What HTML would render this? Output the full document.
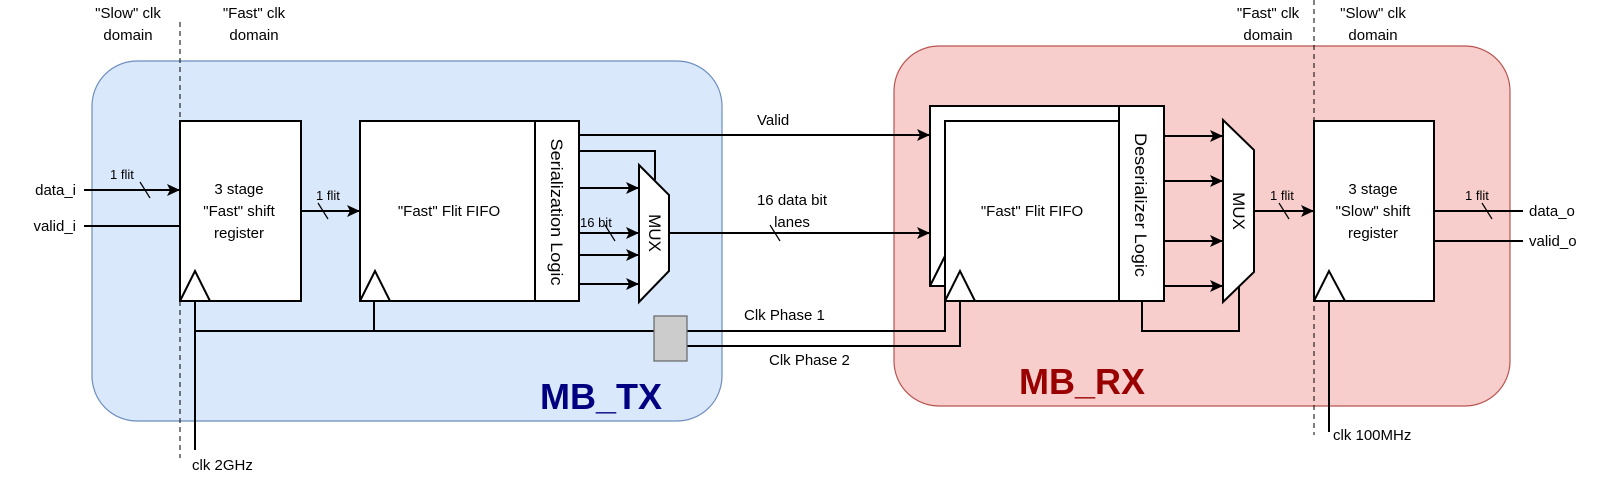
<!DOCTYPE html>
<html><head><meta charset="utf-8"><style>
html,body{margin:0;padding:0;background:#fff;}
svg{display:block;}
text{font-family:"Liberation Sans",Arial,sans-serif;font-size:15px;fill:#000;}
.s{font-size:13px;}
.r{font-size:17px;}
</style></head><body>
<svg width="1620" height="489" viewBox="0 0 1620 489" xmlns="http://www.w3.org/2000/svg">
<defs>
<marker id="a" markerWidth="14" markerHeight="12" refX="13" refY="6" orient="auto" markerUnits="userSpaceOnUse">
<path d="M0,0 L13,6 L0,12 L3,6 Z" fill="#000"/>
</marker>
</defs>
<rect x="92" y="61" width="630" height="360" rx="45" fill="#dae8fc" stroke="#6c8ebf" stroke-width="1.2"/>
<rect x="894" y="46" width="616" height="360" rx="45" fill="#f8cecc" stroke="#b85450" stroke-width="1.2"/>
<text x="540" y="409" style="font-size:36px;font-weight:bold;fill:#000080">MB_TX</text>
<text x="1019" y="394" style="font-size:36px;font-weight:bold;fill:#990000">MB_RX</text>

<line x1="180" y1="22" x2="180" y2="458" stroke="#000" stroke-dasharray="5,4"/>
<line x1="1314" y1="0" x2="1314" y2="435" stroke="#000" stroke-dasharray="5,4"/>
<g text-anchor="middle">
<text x="128" y="18">"Slow" clk</text><text x="128" y="40">domain</text>
<text x="254" y="18">"Fast" clk</text><text x="254" y="40">domain</text>
<text x="1268" y="18">"Fast" clk</text><text x="1268" y="40">domain</text>
<text x="1373" y="18">"Slow" clk</text><text x="1373" y="40">domain</text>
</g>

<g stroke="#000" stroke-width="2" fill="none">
<rect x="180" y="121" width="121" height="180" fill="#fff"/>
<path d="M180,301 L195,271 L210,301"/>
<rect x="360" y="121" width="175" height="180" fill="#fff"/>
<rect x="535" y="121" width="44" height="180" fill="#fff"/>
<path d="M360,301 L375,271 L390,301"/>
<line x1="84" y1="190" x2="180" y2="190" marker-end="url(#a)"/>
<line x1="84" y1="226" x2="180" y2="226"/>
<line x1="301" y1="211" x2="360" y2="211" marker-end="url(#a)"/>
<path d="M639,165 L669,195 L669,271 L639,302 Z" fill="#fff"/>
<line x1="579" y1="188" x2="639" y2="188" marker-end="url(#a)"/>
<line x1="579" y1="233" x2="639" y2="233" marker-end="url(#a)"/>
<line x1="579" y1="255" x2="639" y2="255" marker-end="url(#a)"/>
<line x1="579" y1="284" x2="639" y2="284" marker-end="url(#a)"/>
<path d="M579,151 L655,151 L655,180"/>
<line x1="579" y1="135" x2="930" y2="135" marker-end="url(#a)"/>
<line x1="669" y1="233" x2="930" y2="233" marker-end="url(#a)"/>
<line x1="195" y1="301" x2="195" y2="450"/>
<line x1="195" y1="331" x2="654" y2="331"/>
<line x1="374" y1="301" x2="374" y2="331"/>
<path d="M687,331 L945,331 L945,286"/>
<path d="M687,346 L960,346 L960,301"/>
<rect x="930" y="106" width="189" height="180" fill="#fff"/>
<path d="M930,286 L945,256"/>
<rect x="945" y="121" width="174" height="180" fill="#fff"/>
<path d="M945,301 L960,271 L975,301"/>
<rect x="1119" y="106" width="45" height="195" fill="#fff"/>
<path d="M1223,120 L1254,150 L1254,272 L1223,302 Z" fill="#fff"/>
<line x1="1164" y1="136" x2="1223" y2="136" marker-end="url(#a)"/>
<line x1="1164" y1="181" x2="1223" y2="181" marker-end="url(#a)"/>
<line x1="1164" y1="241" x2="1223" y2="241" marker-end="url(#a)"/>
<line x1="1164" y1="286" x2="1223" y2="286" marker-end="url(#a)"/>
<path d="M1142,301 L1142,331 L1239,331 L1239,287"/>
<line x1="1254" y1="211" x2="1314" y2="211" marker-end="url(#a)"/>
<rect x="1314" y="121" width="120" height="180" fill="#fff"/>
<path d="M1314,301 L1329,271 L1345,301"/>
<line x1="1329" y1="301" x2="1329" y2="432"/>
<line x1="1434" y1="211" x2="1523" y2="211"/>
<line x1="1434" y1="241" x2="1523" y2="241"/>
</g>
<rect x="654" y="316" width="33" height="45" fill="#cccccc" stroke="#666" stroke-width="1.2"/>

<g stroke="#000" stroke-width="1.2">
<line x1="140" y1="182" x2="150" y2="198"/>
<line x1="318" y1="203" x2="328" y2="219"/>
<line x1="605" y1="225" x2="615" y2="241"/>
<line x1="770" y1="225" x2="780" y2="241"/>
<line x1="1279" y1="203" x2="1289" y2="219"/>
<line x1="1482" y1="203" x2="1492" y2="219"/>
</g>

<text x="76" y="195" text-anchor="end">data_i</text>
<text x="76" y="231" text-anchor="end">valid_i</text>
<text x="110" y="179" class="s">1 flit</text>
<text x="316" y="200" class="s">1 flit</text>
<text x="580" y="227" class="s">16 bit</text>
<text x="1270" y="200" class="s">1 flit</text>
<text x="1465" y="200" class="s">1 flit</text>
<g text-anchor="middle">
<text x="239" y="194">3 stage</text>
<text x="239" y="216">"Fast" shift</text>
<text x="239" y="238">register</text>
<text x="449" y="216">"Fast" Flit FIFO</text>
<text x="1032" y="216">"Fast" Flit FIFO</text>
<text x="1373" y="194">3 stage</text>
<text x="1373" y="216">"Slow" shift</text>
<text x="1373" y="238">register</text>
<text x="792" y="205">16 data bit</text>
<text x="792" y="227">lanes</text>
</g>
<text x="757" y="125">Valid</text>
<text x="744" y="320">Clk Phase 1</text>
<text x="769" y="365">Clk Phase 2</text>
<text x="192" y="470">clk 2GHz</text>
<text x="1333" y="440">clk 100MHz</text>
<text x="1529" y="216">data_o</text>
<text x="1529" y="246">valid_o</text>
<g text-anchor="middle">
<text class="r" transform="translate(551,212) rotate(90)" textLength="147" lengthAdjust="spacingAndGlyphs">Serialization Logic</text>
<text class="r" transform="translate(1135,205) rotate(90)" textLength="144" lengthAdjust="spacingAndGlyphs">Deserializer Logic</text>
<text class="r" transform="translate(649,233) rotate(90)">MUX</text>
<text class="r" transform="translate(1233,211) rotate(90)">MUX</text>
</g>
</svg>
</body></html>
